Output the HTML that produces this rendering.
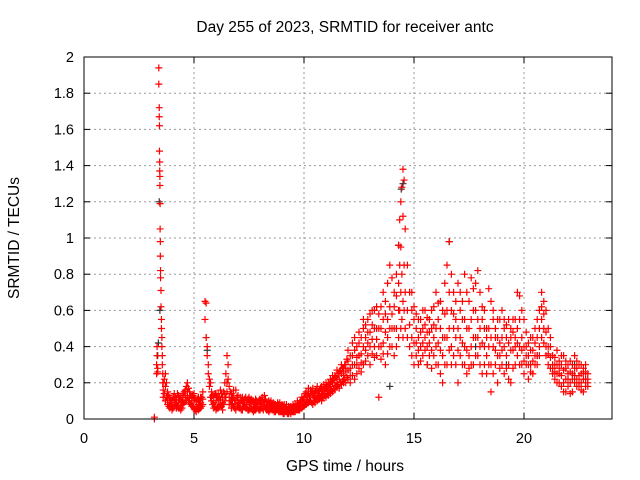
<!DOCTYPE html>
<html><head><meta charset="utf-8"><style>
body{margin:0;background:#fff}
svg{display:block;font-family:"Liberation Sans",sans-serif}
</style></head><body>
<svg id="chart" width="640" height="480" xmlns="http://www.w3.org/2000/svg">
<text x="345" y="32" font-size="15.5" text-anchor="middle">Day 255 of 2023, SRMTID for receiver antc</text>
<text x="345" y="471" font-size="15.5" text-anchor="middle">GPS time / hours</text>
<text transform="translate(19,238) rotate(-90)" font-size="15.5" text-anchor="middle">SRMTID / TECUs</text>
<g id="grid"></g><g id="ticks"></g><g id="black"></g><g id="red"></g>
<rect x="84" y="57" width="528" height="362" fill="none" stroke="#000" stroke-width="1"/>
</svg>
<script>
const xTicks=[0,5,10,15,20];
const yTicks=[0,0.2,0.4,0.6,0.8,1,1.2,1.4,1.6,1.8,2];
const yTickLabels=["0","0.2","0.4","0.6","0.8","1","1.2","1.4","1.6","1.8","2"];
const blackSeries=[[3.35,0.35],[3.38,0.42],[3.45,0.6],[3.42,1.2],[5.55,0.45],[5.6,0.38],[13.9,0.18],[14.3,0.96],[14.42,1.27],[14.5,1.3],[16.6,0.98],[15.6,0.3],[17.8,0.4],[19.2,0.3],[20.6,0.35],[22.3,0.3]];
const redSeries=[[3.2,0,0.01],[3.3,0.25,0.3],[3.32,0.4,0.35],[3.35,0.28,0.26],
[3.4,1.94,1.85],[3.42,1.72,1.67],[3.43,1.62,1.48],[3.44,1.42,1.37],[3.45,1.34,1.29],[3.46,1.19,1.05],[3.47,0.98,0.9],[3.48,0.82,0.78],[3.5,0.71,0.62],[3.52,0.55,0.5],[3.54,0.45,0.4],[3.56,0.35,0.3],[3.58,0.25,0.2],
[3.6,0.2,0.12,0.16],[3.65,0.22,0.14],[3.7,0.25,0.1,0.18],[3.75,0.2,0.12],[3.8,0.15,0.08,0.11],[3.85,0.13,0.07],[3.9,0.12,0.06,0.09],[3.95,0.1,0.07],[4.0,0.1,0.05,0.08],[4.05,0.12,0.06],[4.1,0.14,0.07,0.1],[4.15,0.12,0.08],[4.2,0.11,0.09,0.06],[4.25,0.14,0.07],[4.3,0.13,0.06,0.1],[4.35,0.11,0.06],[4.4,0.09,0.05,0.12],[4.45,0.1,0.06],[4.5,0.12,0.08,0.14],[4.55,0.15,0.09],[4.6,0.16,0.1,0.13],[4.65,0.18,0.1],[4.7,0.2,0.12,0.15],[4.75,0.17,0.1],[4.8,0.15,0.09,0.12],[4.85,0.13,0.08],[4.9,0.12,0.07,0.1],[4.95,0.13,0.07],[5.0,0.14,0.06,0.1],[5.05,0.11,0.05],[5.1,0.1,0.04,0.07],[5.15,0.11,0.06],[5.2,0.12,0.05,0.08],[5.25,0.1,0.06],[5.3,0.09,0.06,0.12],[5.35,0.12,0.07],[5.4,0.15,0.08,0.11],
[5.5,0.65,0.55],[5.55,0.64,0.45],[5.6,0.4,0.35],[5.65,0.3,0.25],[5.7,0.22,0.18],[5.75,0.2,0.12],[5.8,0.15,0.1,0.12],[5.85,0.13,0.08],[5.9,0.12,0.06,0.09],[5.95,0.14,0.07],[6.0,0.14,0.05,0.1],[6.05,0.12,0.06],[6.1,0.1,0.06,0.14],[6.15,0.12,0.07],[6.2,0.16,0.08,0.11],[6.25,0.14,0.07],[6.3,0.12,0.05,0.09],[6.35,0.15,0.08],[6.4,0.2,0.1,0.14],[6.45,0.25,0.12],[6.5,0.35,0.15,0.2],[6.55,0.3,0.22],[6.6,0.18,0.08,0.12],[6.65,0.15,0.1],[6.7,0.14,0.06,0.1],[6.75,0.12,0.08],[6.8,0.12,0.07,0.16],[6.85,0.1,0.06],[6.9,0.16,0.05,0.1],[6.95,0.12,0.07],[7.0,0.1,0.07,0.13],[7.05,0.09,0.06],[7.1,0.12,0.06,0.09],[7.15,0.1,0.05],[7.2,0.09,0.05,0.12],[7.25,0.1,0.07],[7.3,0.11,0.07,0.09],[7.35,0.12,0.06],[7.4,0.1,0.06,0.08],[7.45,0.11,0.05],[7.5,0.12,0.05,0.09],[7.55,0.1,0.06],[7.6,0.09,0.06,0.11],[7.65,0.1,0.05],[7.7,0.1,0.04,0.07],[7.75,0.09,0.05],[7.8,0.08,0.05,0.11],[7.85,0.1,0.06],[7.9,0.09,0.06,0.07],[7.95,0.1,0.05],[8.0,0.11,0.05,0.08],[8.05,0.1,0.06],[8.1,0.1,0.06,0.12],[8.15,0.09,0.05],[8.2,0.13,0.07,0.1],[8.25,0.11,0.06],[8.3,0.09,0.05,0.07],[8.35,0.08,0.05],[8.4,0.08,0.04,0.1],[8.45,0.09,0.05],[8.5,0.1,0.06,0.08],[8.55,0.08,0.05],[8.6,0.09,0.05,0.07],[8.65,0.08,0.04],[8.7,0.08,0.04,0.06],[8.75,0.07,0.05],[8.8,0.07,0.05,0.09],[8.85,0.08,0.04],[8.9,0.09,0.04,0.06],[8.95,0.07,0.04],[9.0,0.06,0.04,0.08],[9.05,0.07,0.03],[9.1,0.08,0.03,0.05],[9.15,0.06,0.04],[9.2,0.06,0.04,0.08],[9.25,0.05,0.03],[9.3,0.07,0.03,0.05],[9.35,0.06,0.04],[9.4,0.05,0.03,0.07],[9.45,0.06,0.04],[9.5,0.06,0.04,0.08],[9.55,0.07,0.04],[9.6,0.08,0.04,0.06],[9.65,0.07,0.05],[9.7,0.07,0.05,0.1],[9.75,0.08,0.05],[9.8,0.09,0.05,0.07],[9.85,0.1,0.06],[9.9,0.1,0.06,0.12],[9.95,0.11,0.07],
[10.0,0.12,0.07,0.1],[10.05,0.14,0.08],[10.1,0.15,0.08,0.11],[10.15,0.13,0.09],[10.2,0.14,0.09,0.17],[10.25,0.12,0.1],[10.3,0.16,0.1,0.13],[10.35,0.15,0.09],[10.4,0.13,0.08,0.17],[10.45,0.14,0.1],[10.5,0.15,0.09,0.12],[10.55,0.16,0.11],[10.6,0.14,0.1,0.18],[10.65,0.15,0.11],[10.7,0.16,0.11,0.13],[10.75,0.17,0.12],[10.8,0.18,0.1,0.14],[10.85,0.16,0.12],[10.9,0.15,0.12,0.19],[10.95,0.17,0.13],[11.0,0.17,0.12,0.2],[11.05,0.18,0.14],[11.1,0.2,0.13,0.16],[11.15,0.19,0.15],[11.2,0.22,0.14,0.18],[11.25,0.21,0.16],[11.3,0.2,0.15,0.24],[11.35,0.22,0.17],[11.4,0.24,0.16,0.2],[11.45,0.23,0.18],[11.5,0.22,0.18,0.27],[11.55,0.25,0.19],[11.6,0.26,0.17,0.22],[11.65,0.27,0.2],[11.7,0.25,0.19,0.3],[11.75,0.28,0.21],[11.8,0.28,0.2,0.24],[11.85,0.3,0.22],[11.9,0.3,0.2,0.26],[11.95,0.33,0.23],
[12.0,0.32,0.22,0.27,0.38],[12.1,0.28,0.2,0.35,0.24],[12.2,0.35,0.24,0.42,0.3],[12.3,0.38,0.22,0.3,0.45],[12.4,0.3,0.25,0.4,0.34],[12.5,0.42,0.28,0.35,0.48],[12.6,0.36,0.26,0.45,0.31],[12.7,0.5,0.3,0.4,0.55],[12.8,0.45,0.32,0.38,0.52],[12.9,0.55,0.35,0.42,0.48],[13.0,0.48,0.3,0.4,0.58],[13.1,0.52,0.36,0.44,0.6],[13.2,0.6,0.4,0.5,0.34],[13.3,0.5,0.35,0.44,0.62],[13.4,0.58,0.12,0.4,0.5],[13.5,0.62,0.4,0.5,0.33],[13.6,0.7,0.42,0.55,0.36],[13.7,0.65,0.3,0.48,0.58],[13.8,0.75,0.45,0.55,0.36],[13.9,0.85,0.5,0.62,0.4],[14.0,0.78,0.4,0.58,0.5],[14.1,0.7,0.35,0.5,0.62],[14.2,0.68,0.5,0.4,0.8],[14.3,0.96,0.45,0.6,0.75],[14.35,1.1,0.6,0.85],[14.4,1.2,0.7,0.5,0.95],[14.45,1.28,0.55,0.8],[14.5,1.38,0.65,0.45,1.12],[14.55,1.32,0.6,0.85],[14.6,1.05,0.5,0.7],[14.7,0.85,0.45,0.6],[14.8,0.7,0.4,0.52],[14.9,0.6,0.35,0.45,0.7],
[15.0,0.55,0.3,0.42,0.62],[15.1,0.5,0.35,0.42,0.58],[15.2,0.45,0.3,0.38,0.55],[15.3,0.55,0.4,0.32,0.48],[15.4,0.5,0.35,0.42,0.6],[15.5,0.6,0.38,0.45,0.52],[15.6,0.48,0.3,0.4,0.56],[15.7,0.55,0.42,0.35,0.48],[15.8,0.5,0.28,0.38,0.6],[15.9,0.62,0.35,0.45,0.52],[16.0,0.7,0.4,0.5,0.3],[16.1,0.55,0.3,0.42,0.64],[16.2,0.65,0.25,0.5,0.38],[16.3,0.6,0.2,0.45,0.35],[16.4,0.75,0.45,0.58,0.3],[16.5,0.85,0.3,0.6,0.45],[16.6,0.98,0.5,0.7,0.38],[16.7,0.8,0.4,0.6,0.3],[16.8,0.7,0.35,0.5,0.58],[16.9,0.65,0.3,0.45,0.55],[17.0,0.75,0.2,0.5,0.38],[17.1,0.6,0.35,0.45,0.7],[17.2,0.55,0.3,0.42,0.65],[17.3,0.8,0.4,0.55,0.3],[17.4,0.7,0.25,0.5,0.38],[17.5,0.65,0.35,0.5,0.28],[17.6,0.78,0.4,0.55,0.3],[17.7,0.6,0.3,0.45,0.72],[17.8,0.75,0.45,0.6,0.35],[17.9,0.82,0.35,0.55,0.45],[18.0,0.7,0.3,0.5,0.4],[18.1,0.55,0.25,0.42,0.62],[18.2,0.6,0.4,0.3,0.5],[18.3,0.5,0.35,0.45,0.25],[18.4,0.72,0.3,0.5,0.4],[18.5,0.65,0.15,0.45,0.3],[18.6,0.55,0.25,0.4,0.6],[18.7,0.5,0.3,0.38,0.45],[18.8,0.45,0.2,0.35,0.55],[18.9,0.55,0.35,0.42,0.28],[19.0,0.6,0.3,0.45,0.38],[19.1,0.5,0.25,0.4,0.55],[19.2,0.45,0.35,0.28,0.52],[19.3,0.55,0.3,0.42,0.22],[19.4,0.5,0.2,0.38,0.45],[19.5,0.48,0.38,0.28,0.55],[19.6,0.55,0.3,0.45,0.4],[19.7,0.7,0.35,0.5,0.42],[19.8,0.68,0.4,0.55,0.3],[19.9,0.6,0.3,0.45,0.38],
[20.0,0.55,0.25,0.4,0.32],[20.1,0.4,0.3,0.35,0.48],[20.2,0.35,0.22,0.3,0.42],[20.3,0.45,0.3,0.38,0.26],[20.4,0.38,0.25,0.32,0.45],[20.5,0.42,0.3,0.35,0.5],[20.6,0.55,0.35,0.45,0.3],[20.7,0.6,0.4,0.5,0.35],[20.8,0.7,0.45,0.55,0.62],[20.9,0.65,0.5,0.58,0.42],[21.0,0.6,0.35,0.48,0.4],[21.1,0.5,0.3,0.4,0.36],[21.2,0.4,0.28,0.34,0.45],[21.3,0.35,0.25,0.3,0.28],[21.4,0.3,0.22,0.26,0.34],[21.5,0.38,0.2,0.3,0.25],[21.6,0.32,0.25,0.28,0.2],[21.7,0.3,0.18,0.24,0.35],[21.8,0.35,0.2,0.27,0.15],[21.9,0.28,0.15,0.22,0.32],[22.0,0.25,0.18,0.22,0.3],[22.1,0.32,0.2,0.26,0.14],[22.2,0.3,0.15,0.22,0.25],[22.3,0.35,0.2,0.28,0.24],[22.4,0.28,0.22,0.18,0.32],[22.5,0.3,0.18,0.24,0.2],[22.6,0.25,0.2,0.3,0.16],[22.7,0.28,0.15,0.22,0.26],[22.8,0.22,0.18,0.26,0.3],[22.9,0.25,0.2,0.22,0.18]];

const NS="http://www.w3.org/2000/svg";
const X0=84,X1=612,Y0=419,Y1=57,XMAX=24,YMAX=2;
function xs(v){return X0+(X1-X0)*v/XMAX;}
function ys(v){return Y0-(Y0-Y1)*v/YMAX;}
function mk(tag,at,parent){const e=document.createElementNS(NS,tag);for(const k in at)e.setAttribute(k,at[k]);parent.appendChild(e);return e;}
const grid=document.getElementById('grid'),ticks=document.getElementById('ticks');
yTicks.forEach((v,i)=>{
  const y=ys(v);
  if(i>0&&i<yTicks.length-1){const g=mk('line',{x1:X0,x2:X1,y1:y,y2:y,stroke:'#999','stroke-dasharray':'2,3'},grid);
  
  }
  mk('line',{x1:X0,x2:X0+6,y1:y,y2:y,stroke:'#000'},ticks);
  mk('line',{x1:X1-6,x2:X1,y1:y,y2:y,stroke:'#000'},ticks);
  const t=mk('text',{x:X0-10,y:y+5,'font-size':14.5,'text-anchor':'end'},ticks);
  t.textContent=yTickLabels[i];
  
  
});
xTicks.forEach(v=>{
  const x=xs(v);
  if(v>0){const g=mk('line',{x1:x,x2:x,y1:Y1,y2:Y0,stroke:'#999','stroke-dasharray':'2,3'},grid);
  
  }
  mk('line',{x1:x,x2:x,y1:Y0,y2:Y0-6,stroke:'#000'},ticks);
  mk('line',{x1:x,x2:x,y1:Y1,y2:Y1+6,stroke:'#000'},ticks);
  const t=mk('text',{x:x,y:Y0+24,'font-size':14.5,'text-anchor':'middle'},ticks);
  t.textContent=String(v);
  
  
});
function plus(g,x,y,c){
  const p=mk('path',{d:`M${x-3.5},${y}h7M${x},${y-3.5}v7`,stroke:c,'stroke-width':1.2,fill:'none'},g);
  
  
}
const gb=document.getElementById('black'),gr=document.getElementById('red');
blackSeries.forEach(d=>{for(let k=1;k<d.length;k++)plus(gb,xs(d[0]),ys(d[k]),'#333');});
redSeries.forEach(d=>{for(let k=1;k<d.length;k++)plus(gr,xs(d[0]),ys(d[k]),'#f00');});
</script>
</body></html>
